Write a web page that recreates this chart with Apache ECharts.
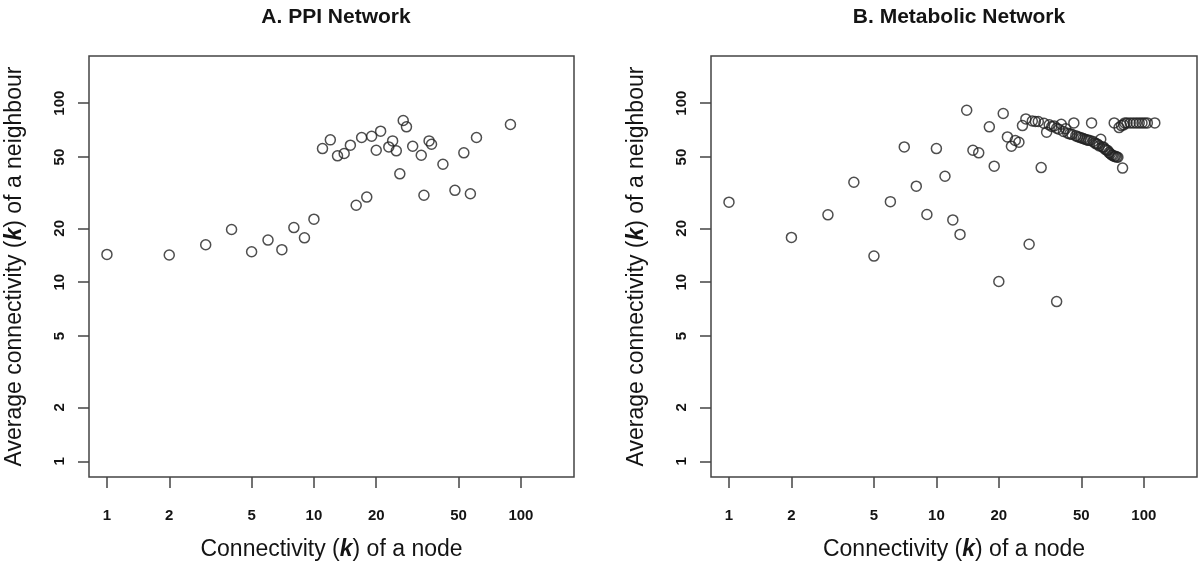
<!DOCTYPE html>
<html>
<head>
<meta charset="utf-8">
<script src="https://cdn.jsdelivr.net/npm/echarts@6/dist/echarts.min.js"></script>
<style>
html,body{margin:0;padding:0;background:#fff;}
#chart{width:1200px;height:569px;}
</style>
</head>
<body>
<div id="chart"></div>
<script>
// ---- Data ----
const tickValues = [1, 2, 5, 10, 20, 50, 100];
const panelTitles = ['A. PPI Network', 'B. Metabolic Network'];
const xAxisTitle = 'Connectivity ({b|k}) of a node';
const yAxisTitle = 'Average connectivity ({b|k}) of a neighbour';

const ppiK = [1, 2, 3, 4, 5, 6, 7, 8, 9, 10, 11, 12, 13, 14, 15, 16, 17, 18, 19, 20,
  21, 23, 24, 25, 26, 27, 28, 30, 33, 34, 36, 37, 42, 48, 53, 57, 61, 89];
const ppiKnn = [14.3, 14.2, 16.2, 19.7, 14.8, 17.2, 15.2, 20.2, 17.7, 22.5,
  55.8, 62.4, 50.8, 52.4, 58.3, 26.9, 64.3, 29.9, 65.4, 54.6,
  69.8, 57.0, 61.6, 54.2, 40.3, 80.0, 73.8, 57.5, 51.2, 30.6,
  61.6, 59.0, 45.6, 32.6, 52.8, 31.2, 64.3, 76.0];

const metK = [1, 2, 3, 4, 5, 6, 7, 8, 9, 10, 11, 12, 13, 14, 15, 16, 18, 19, 20, 21,
  22, 23, 24, 25, 26, 27, 28, 29, 30, 31, 32, 33, 34, 35, 36, 37, 38, 38, 39, 40,
  41, 42, 43, 44, 45, 46, 47, 48, 49, 50, 51, 52, 53, 54, 55, 56, 57, 58, 59, 60,
  61, 62, 63, 64, 65, 66, 67, 68, 69, 70, 71, 72, 72, 73, 74, 75, 76, 78, 79, 80,
  81, 83, 86, 89, 92, 95, 98, 101, 104, 113];
const metKnn = [28.0, 17.8, 23.8, 36.2, 14.0, 28.2, 57.0, 34.4, 23.9, 55.8,
  39.1, 22.3, 18.5, 91.4, 54.6, 52.8, 73.8, 44.5, 10.1, 87.6,
  64.8, 57.5, 61.9, 60.5, 75.0, 81.7, 16.3, 79.6, 79.0, 79.0,
  43.7, 77.3, 68.9, 75.7, 74.1, 74.7, 72.5, 7.8, 71.5, 76.3,
  69.5, 72.0, 68.0, 67.4, 67.0, 77.6, 65.7, 65.0, 64.6, 64.0,
  63.5, 62.9, 62.5, 62.0, 61.9, 77.6, 61.1, 60.0, 59.3, 59.0,
  57.8, 62.9, 57.0, 56.8, 55.3, 54.8, 54.4, 53.0, 52.2, 51.4,
  51.0, 77.6, 50.4, 50.5, 50.0, 49.9, 73.1, 75.0, 43.4, 75.7,
  77.6, 77.6, 77.6, 77.6, 77.6, 77.6, 77.6, 77.6, 77.6, 77.6];

// ---- Chart ----
const chart = echarts.init(document.getElementById('chart'), null, {renderer: 'canvas'});
const FONT = '"Liberation Sans", Arial, Helvetica, sans-serif';
const ink = '#141414';
const boxColor = '#444444';

function pairs(xs, ys) { return xs.map((x, i) => [x, ys[i]]); }

function xAxisDef(gi) {
  return {
    type: 'log', logBase: 10, gridIndex: gi,
    min: 0.819, max: 180.5,
    axisLine: {show: false},
    splitLine: {show: false},
    axisTick: {show: true, length: 11, customValues: tickValues, lineStyle: {color: boxColor, width: 1.5}},
    axisLabel: {show: true, customValues: tickValues, margin: 31, fontFamily: FONT, fontSize: 15, fontWeight: 'bold', color: ink},
    name: xAxisTitle, nameLocation: 'middle', nameGap: 61,
    nameTextStyle: {fontFamily: FONT, fontSize: 23, color: ink,
      rich: {b: {fontFamily: FONT, fontSize: 23, fontWeight: 'bold', fontStyle: 'italic', color: ink}}}
  };
}
function yAxisDef(gi) {
  return {
    type: 'log', logBase: 10, gridIndex: gi,
    min: 0.817, max: 183.5,
    axisLine: {show: false},
    splitLine: {show: false},
    axisTick: {show: true, length: 11, customValues: tickValues, lineStyle: {color: boxColor, width: 1.5}},
    axisLabel: {show: true, customValues: tickValues, rotate: 90, margin: 22, fontFamily: FONT, fontSize: 15, fontWeight: 'bold', color: ink},
    name: yAxisTitle, nameLocation: 'middle', nameGap: 63,
    nameTextStyle: {fontFamily: FONT, fontSize: 23, color: ink,
      rich: {b: {fontFamily: FONT, fontSize: 23, fontWeight: 'bold', fontStyle: 'italic', color: ink}}}
  };
}
function scatterDef(gi, data) {
  return {
    type: 'scatter', xAxisIndex: gi, yAxisIndex: gi,
    data: data, symbol: 'circle', symbolSize: 10,
    itemStyle: {color: 'rgba(0,0,0,0)', borderColor: '#222222', borderWidth: 1.5},
    emphasis: {disabled: true}, animation: false
  };
}

chart.setOption({
  backgroundColor: '#ffffff',
  animation: false,
  title: [
    {text: panelTitles[0], left: 331, top: 2, textAlign: 'center',
      textStyle: {fontFamily: FONT, fontSize: 21, fontWeight: 'bold', color: ink}},
    {text: panelTitles[1], left: 954, top: 2, textAlign: 'center',
      textStyle: {fontFamily: FONT, fontSize: 21, fontWeight: 'bold', color: ink}}
  ],
  grid: [
    {left: 89, top: 56, width: 485, height: 421, show: true, borderColor: boxColor, borderWidth: 1.5, backgroundColor: 'transparent'},
    {left: 711, top: 56, width: 486, height: 421, show: true, borderColor: boxColor, borderWidth: 1.5, backgroundColor: 'transparent'}
  ],
  xAxis: [xAxisDef(0), xAxisDef(1)],
  yAxis: [yAxisDef(0), yAxisDef(1)],
  series: [scatterDef(0, pairs(ppiK, ppiKnn)), scatterDef(1, pairs(metK, metKnn))]
});
</script>
</body>
</html>
